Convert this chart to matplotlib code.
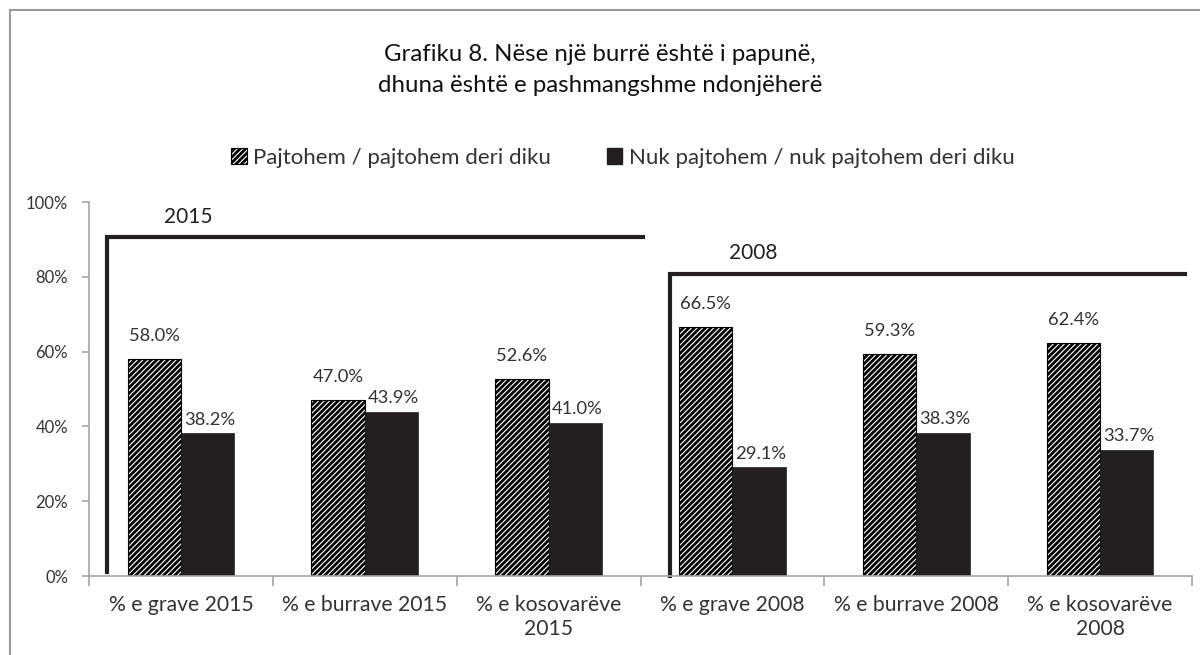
import matplotlib.pyplot as plt
from matplotlib.lines import Line2D
from matplotlib.patches import Patch
import numpy as np

plt.rcParams['font.family'] = ['Lato', 'DejaVu Sans']
plt.rcParams['hatch.linewidth'] = 2.0

# data
categories = ["% e grave 2015", "% e burrave 2015", "% e kosovarëve\n2015",
              "% e grave 2008", "% e burrave 2008", "% e kosovarëve\n2008"]
agree = [58.0, 47.0, 52.6, 66.5, 59.3, 62.4]
disagree = [38.2, 43.9, 41.0, 29.1, 38.3, 33.7]
series_names = ["Pajtohem / pajtohem deri diku", "Nuk pajtohem / nuk pajtohem deri diku"]
yticks = [0, 20, 40, 60, 80, 100]

dark = '#231f20'
gray = '#a6a6a6'
txt = '#333333'

fig = plt.figure(figsize=(12, 6.55), dpi=100)
ax = fig.add_axes([0.0742, 0.1206, 0.9191, 0.571])

x = np.arange(len(categories))
w = 0.29
b1 = ax.bar(x - w / 2, agree, w, color='white', edgecolor='black', hatch='//////', linewidth=0.8)
b2 = ax.bar(x + w / 2, disagree, w, color=dark, edgecolor=dark, linewidth=0.5)

for xi, v in zip(x, agree):
    ax.text(xi - w / 2, v + 4.0, f"{v:.1f}%", ha='center', va='bottom', fontsize=13.2, color=txt)
for xi, v in zip(x, disagree):
    ax.text(xi + w / 2 + 0.01, v + 1.5, f"{v:.1f}%", ha='center', va='bottom', fontsize=13.2, color=txt)

# period brackets
ax.plot([-0.402, -0.402, 2.514], [1.0, 90.6, 90.6], color=dark, lw=3, solid_joinstyle='miter', clip_on=False)
ax.plot([2.661, 2.661, 5.463], [0.0, 80.7, 80.7], color=dark, lw=3, solid_joinstyle='miter', clip_on=False)
ax.text(0.039, 96.0, "2015", ha='center', va='center', fontsize=15, color=dark)
ax.text(3.112, 86.4, "2008", ha='center', va='center', fontsize=15, color=dark)

ax.set_xlim(-0.5, len(categories) - 0.5)
ax.set_ylim(0, 100)
ax.set_yticks(yticks)
ax.set_yticklabels([f"{t}%" for t in yticks], fontsize=12, color=txt)
ax.set_xticks(x)
ax.set_xticklabels(categories, fontsize=15.2, color=txt, linespacing=1.25)
ax.set_xticks(np.arange(-0.5, len(categories)), minor=True)
ax.tick_params(axis='x', which='major', length=0, pad=14)
ax.tick_params(axis='x', which='minor', length=7, color=gray, width=1.2)
ax.tick_params(axis='y', length=5, color=gray, width=1.2, pad=10)
for s in ['top', 'right']:
    ax.spines[s].set_visible(False)
for s in ['left', 'bottom']:
    ax.spines[s].set_color(gray)
    ax.spines[s].set_linewidth(1.2)

fig.text(0.5, 0.893, "Grafiku 8. Nëse një burrë është i papunë,\ndhuna është e pashmangshme ndonjëherë",
         ha='center', va='center', fontsize=17.3, color='#111111', linespacing=1.6)

handles = [Patch(facecolor='white', edgecolor='black', hatch='//////', linewidth=0.8),
           Patch(facecolor=dark, edgecolor=dark)]
fig.legend(handles, series_names, loc='center', bbox_to_anchor=(0.519, 0.759), ncol=2, frameon=False,
           fontsize=16, handlelength=0.7, handleheight=0.7, handletextpad=0.3, columnspacing=2.5,
           labelcolor=txt)

# chart border
fig.add_artist(Line2D([0.0083, 1.0], [0.9847, 0.9847], color='#999999', lw=1.5))
fig.add_artist(Line2D([0.0083, 0.0083], [0.0, 0.9847], color='#999999', lw=1.5))

fig.savefig('out.png', dpi=100)
